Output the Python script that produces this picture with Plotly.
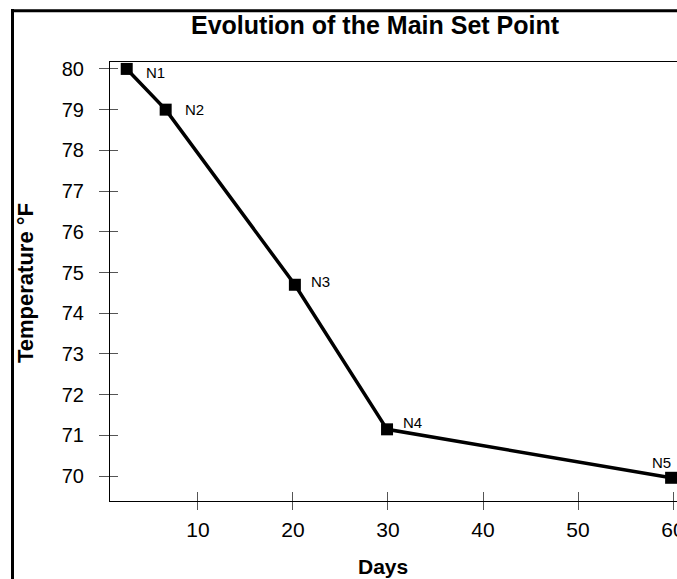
import plotly.graph_objects as go

# Data
days = [2.5, 6.6, 20.2, 29.9, 59.8]
temps = [80.0, 79.0, 74.7, 71.15, 69.96]
labels = ["N1", "N2", "N3", "N4", "N5"]
x_ticks = [10, 20, 30, 40, 50, 60]
y_ticks = [70, 71, 72, 73, 74, 75, 76, 77, 78, 79, 80]

W, H = 677, 579
L, R, T, B = 110, 0, 62, 78
PW, PH = W - L - R, H - T - B

def px_to_paper_x(px):
    return (px - L) / PW

def px_to_paper_y(py):
    return (H - B - py) / PH

FONT = "Liberation Sans, Arial, Helvetica, sans-serif"
xr = [0.74, 60.42]
yr = [69.39, 80.17]

fig = go.Figure()
fig.add_trace(go.Scatter(
    x=days, y=temps, mode="lines+markers",
    line=dict(color="black", width=3.5),
    marker=dict(symbol="square", size=12, color="black"),
    cliponaxis=False, showlegend=False, hoverinfo="skip",
))
# invisible trace carrying the inner-tick axes
fig.add_trace(go.Scatter(
    x=days, y=temps, mode="markers", xaxis="x2", yaxis="y2",
    marker=dict(opacity=0), showlegend=False, hoverinfo="skip",
))

# point labels
offsets = {
    "N1": dict(xanchor="left", xshift=17, yshift=-4),
    "N2": dict(xanchor="left", xshift=17, yshift=0),
    "N3": dict(xanchor="left", xshift=14, yshift=3),
    "N4": dict(xanchor="left", xshift=14, yshift=7),
    "N5": dict(xanchor="right", xshift=2, yshift=15),
}
for xv, yv, lab in zip(days, temps, labels):
    fig.add_annotation(x=xv, y=yv, xref="x", yref="y", text=lab, showarrow=False,
                       yanchor="middle", font=dict(family=FONT, size=15, color="black"),
                       **offsets[lab])

# titles
fig.add_annotation(x=px_to_paper_x(375), y=px_to_paper_y(25), xref="paper", yref="paper",
                   text="<b>Evolution of the Main Set Point</b>", showarrow=False,
                   xanchor="center", yanchor="middle",
                   font=dict(family=FONT, size=25, color="black"))
fig.add_annotation(x=px_to_paper_x(383), y=px_to_paper_y(566), xref="paper", yref="paper",
                   text="<b>Days</b>", showarrow=False, xanchor="center", yanchor="middle",
                   font=dict(family=FONT, size=21, color="black"))
fig.add_annotation(x=px_to_paper_x(25), y=px_to_paper_y(283), xref="paper", yref="paper",
                   text="<b>Temperature °F</b>", showarrow=False, textangle=-90,
                   xanchor="center", yanchor="middle",
                   font=dict(family=FONT, size=22, color="black"))

# outer frame lines (left and top)
fig.add_shape(type="line", xref="paper", yref="paper",
              x0=px_to_paper_x(12.5), x1=px_to_paper_x(12.5),
              y0=px_to_paper_y(9), y1=px_to_paper_y(579),
              line=dict(color="black", width=3))
fig.add_shape(type="line", xref="paper", yref="paper",
              x0=px_to_paper_x(11), x1=px_to_paper_x(677),
              y0=px_to_paper_y(10.7), y1=px_to_paper_y(10.7),
              line=dict(color="black", width=3))

fig.update_layout(
    width=W, height=H,
    margin=dict(l=L, r=R, t=T, b=B, pad=0),
    paper_bgcolor="white", plot_bgcolor="white",
    font=dict(family=FONT, color="black"),
    xaxis=dict(range=xr, tickvals=x_ticks, ticks="outside", ticklen=8, tickwidth=1,
               tickcolor="#555", showline=True, linecolor="black", linewidth=1,
               mirror=True, showgrid=False, zeroline=False, ticklabeloverflow="allow",
               automargin=False,
               tickfont=dict(family=FONT, size=21, color="black"), ticklabelstandoff=2),
    yaxis=dict(range=yr, tickvals=y_ticks, ticks="outside", ticklen=10, tickwidth=1,
               tickcolor="#555", showline=True, linecolor="black", linewidth=1,
               showgrid=False, zeroline=False, automargin=False,
               tickfont=dict(family=FONT, size=20, color="black"), ticklabelstandoff=11),
    xaxis2=dict(range=xr, tickvals=x_ticks, ticks="inside", ticklen=9, tickwidth=1,
                tickcolor="#555", overlaying="x", anchor="y2", showticklabels=False,
                showline=False, showgrid=False, zeroline=False, side="bottom"),
    yaxis2=dict(range=yr, tickvals=y_ticks, ticks="inside", ticklen=8, tickwidth=1,
                tickcolor="#555", overlaying="y", anchor="x2", showticklabels=False,
                showline=False, showgrid=False, zeroline=False, side="left"),
)

post = (
    "document.documentElement.style.overflow='hidden';"
    "document.body.style.margin='0';document.body.style.overflow='hidden';"
    "var d=document.querySelector('.plotly-graph-div');"
    "if(d){d.style.overflow='hidden';d.style.width='677px';d.style.height='579px';}"
    "document.querySelectorAll('svg.main-svg').forEach(function(s){s.style.overflow='hidden';});"
)
fig.write_html("out.html", config={"displayModeBar": False}, post_script=post)
